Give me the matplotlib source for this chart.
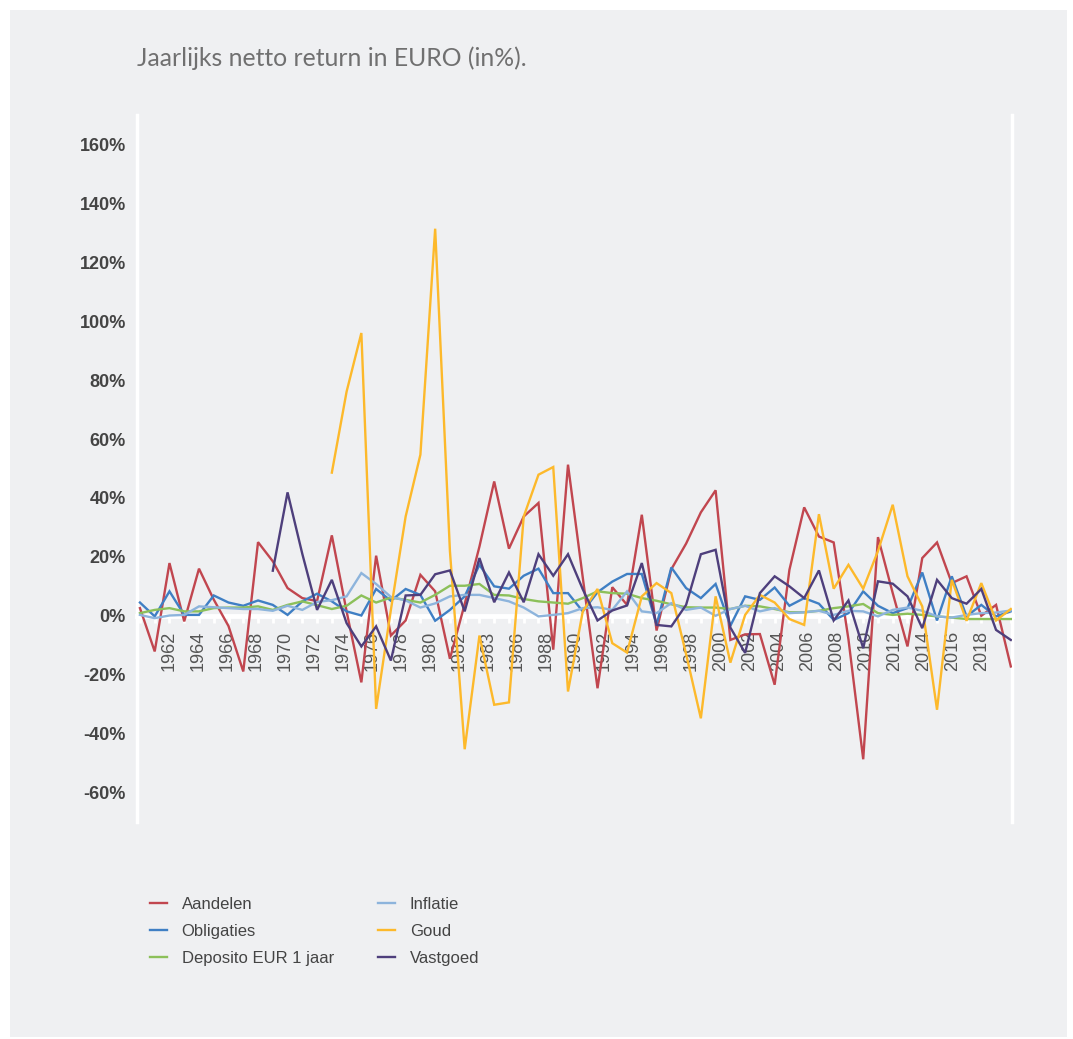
import numpy as np
import matplotlib
matplotlib.use("Agg")
import matplotlib.pyplot as plt
from matplotlib.patches import Rectangle
from matplotlib.lines import Line2D

nan = np.nan

# data: 60 annual observations
years = list(range(1960, 2020))

aandelen = [2.6, -12.1, 17.9, -1.9, 16.0, 5.5, -3.5, -18.9, 25.0, 18.5,
            9.4, 6.0, 5.0, 27.3, 1.5, -22.6, 20.4, -6.7, -1.6, 13.9,
            8.3, -14.6, 4.0, 23.5, 45.6, 22.8, 33.7, 38.3, -11.5, 51.3,
            13.0, -24.6, 9.7, 3.7, 34.3, -5.0, 15.8, 24.5, 35.1, 42.6,
            -8.2, -6.3, -6.2, -23.4, 15.6, 36.8, 26.9, 24.9, -8.0, -48.7,
            26.7, 7.7, -10.4, 19.6, 24.9, 11.1, 13.4, 0.0, 3.7, -17.2]

obligaties = [4.5, -0.2, 8.3, 0.3, 0.3, 6.9, 4.5, 3.4, 5.2, 3.7,
              0.3, 4.9, 7.5, 4.9, 1.5, 0.1, 9.1, 5.1, 9.1, 7.1,
              -1.7, 2.0, 6.6, 17.3, 10.0, 9.2, 13.6, 16.0, 7.7, 7.7,
              1.5, 8.0, 11.6, 14.2, 14.2, -3.1, 16.4, 9.4, 6.0, 10.8,
              -3.4, 6.6, 5.4, 9.6, 3.4, 6.0, 4.1, -1.4, 0.9, 8.3,
              3.4, 0.9, 2.6, 14.7, -1.6, 13.4, -0.2, 3.7, -0.2, 1.5]

deposito = [0.9, 2.0, 2.6, 1.5, 1.5, 2.6, 2.8, 2.8, 3.2, 2.0,
            3.7, 4.9, 3.6, 2.3, 3.4, 6.9, 4.5, 6.2, 5.4, 4.5,
            7.1, 10.2, 10.2, 10.8, 7.1, 6.9, 5.7, 4.9, 4.5, 4.1,
            6.0, 8.3, 7.7, 7.5, 6.0, 5.1, 3.9, 2.9, 2.8, 2.8,
            2.3, 3.4, 3.2, 2.3, 1.2, 1.2, 1.7, 2.6, 3.2, 4.0,
            0.9, 0.3, 0.7, 0.3, -0.2, -0.6, -1.1, -1.1, -1.1, -1.1]

inflatie = [0.3, -0.8, 0.1, 0.3, 3.2, 2.9, 2.6, 2.3, 2.3, 1.7,
            3.4, 2.0, 4.7, 5.3, 6.6, 14.5, 10.8, 6.4, 5.2, 2.8,
            4.2, 6.6, 7.1, 7.1, 6.0, 4.9, 2.8, -0.2, 0.3, 0.9,
            2.6, 2.9, 2.0, 8.3, 1.5, 0.9, 4.3, 2.0, 2.8, 0.0,
            2.3, 3.4, 1.5, 2.6, 0.9, 1.2, 1.7, 0.3, 1.7, 1.5,
            -0.2, 2.0, 2.8, 1.7, -0.2, -0.6, 0.3, 0.9, 1.1, 1.8]

goud = [nan, nan, nan, nan, nan, nan, nan, nan, nan, nan,
        nan, nan, nan, 48.6, 76.1, 96.0, -31.6, 2.0, 33.7, 54.7,
        131.4, 22.0, -45.3, -6.7, -30.2, -29.4, 33.7, 47.9, 50.5, -25.7,
        1.5, 9.1, -9.3, -12.5, 6.6, 11.1, 7.7, -13.0, -34.8, 6.6,
        -15.9, 0.3, 7.1, 4.5, -1.1, -3.1, 34.5, 9.2, 17.3, 9.2,
        22.0, 37.7, 13.4, 3.2, -31.9, 12.2, -1.7, 11.1, -1.6, 2.3]

vastgoed = [nan, nan, nan, nan, nan, nan, nan, nan, nan, 15.3,
            41.9, 21.0, 2.0, 12.2, -2.5, -10.4, -3.6, -15.2, 6.9, 7.1,
            14.1, 15.4, 1.5, 19.6, 4.6, 14.7, 4.6, 20.9, 13.6, 20.9,
            9.0, -1.6, 1.8, 3.5, 17.9, -3.1, -3.6, 3.7, 20.9, 22.4,
            -4.0, -12.6, 7.7, 13.4, 10.0, 6.0, 15.4, -1.6, 5.2, -11.0,
            11.7, 10.9, 6.6, -4.2, 12.2, 6.0, 4.1, 9.1, -4.8, -8.2]

series_names = ["Aandelen", "Obligaties", "Deposito EUR 1 jaar",
                "Inflatie", "Goud", "Vastgoed"]
series_values = [aandelen, obligaties, deposito, inflatie, goud, vastgoed]
series_colors = ["#c1464f", "#3f7fc4", "#8cc05a", "#8db4dc", "#fdb92b", "#4e3f7c"]

tick_years = [1962, 1964, 1966, 1968, 1970, 1972, 1974, 1976, 1978, 1980,
              1982, 1984, 1986, 1988, 1990, 1992, 1994, 1996, 1998, 2000,
              2002, 2004, 2006, 2008, 2010, 2012, 2014, 2016, 2018]
tick_labels = ["1962", "1964", "1966", "1968", "1970", "1972", "1974", "1976",
               "1978", "1980", "1982", "1983", "1986", "1988", "1990", "1992",
               "1994", "1996", "1998", "2000", "2002", "2004", "2006", "2008",
               "2010", "2012", "2014", "2016", "2018"]
label_axis_span = (1960, 2020)

y_ticks = [-60, -40, -20, 0, 20, 40, 60, 80, 100, 120, 140, 160]

title = "Jaarlijks netto return in EURO (in%)."

# ---------------------------------------------------------------
W, H = 1073, 1039
fig = plt.figure(figsize=(W / 100, H / 100), dpi=100)
fig.patch.set_facecolor("white")
fig.patches.append(Rectangle((10 / W, 1 - 1037 / H), (1067 - 10) / W, (1037 - 10) / H,
                             transform=fig.transFigure, facecolor="#eff0f2",
                             edgecolor="none", zorder=-10))

ax = fig.add_axes([137 / W, 1 - 822 / H, (1012 - 137) / W, (822 - 115) / H])
ax.set_facecolor("none")

idx = np.arange(len(years))
for name, vals, col in zip(series_names, series_values, series_colors):
    ax.plot(idx, vals, color=col, lw=1.7, label=name, zorder=3,
            solid_joinstyle="miter")

n = len(years)
ax.set_xlim(-0.2, n - 1 + 0.08)
ax.set_ylim(-70, 170)

ax.spines["top"].set_visible(False)
for s in ("left", "right"):
    ax.spines[s].set_color("white")
    ax.spines[s].set_linewidth(2.5)
ax.spines["bottom"].set_position(("data", 0))
ax.spines["bottom"].set_color("white")
ax.spines["bottom"].set_linewidth(3.5)
ax.spines["bottom"].set_zorder(2)

span = label_axis_span[1] - label_axis_span[0]
tick_pos = [(y - label_axis_span[0]) * (n - 1) / span for y in tick_years]
ax.set_xticks(tick_pos)
ax.set_xticklabels(tick_labels, rotation=90, fontsize=13, color="#555555",
                   family="Liberation Sans")
ax.set_xticks(idx, minor=True)
ax.tick_params(axis="x", which="major", length=0, pad=11)
ax.tick_params(axis="x", which="minor", length=5, width=2, color="white",
               direction="out")

ax.set_yticks(y_ticks)
ax.set_yticklabels([f"{v}%" for v in y_ticks], fontsize=13, color="#444444",
                   family="Liberation Sans", fontweight="bold")
ax.tick_params(axis="y", which="both", length=0, pad=8)

fig.text(137 / W, 1 - 66 / H, title, fontsize=17.8, color="#707070",
         family="Lato", fontweight="normal", ha="left", va="baseline")

handles = [Line2D([], [], color=c, lw=1.7) for c in series_colors]
leg_kw = dict(loc="upper left", frameon=False, borderpad=0, borderaxespad=0,
              handlelength=1.0, handletextpad=0.9, labelspacing=0.72,
              prop={"family": "Liberation Sans", "size": 12},
              labelcolor="#444444", bbox_transform=fig.transFigure)
leg1 = fig.legend(handles[:3], series_names[:3],
                  bbox_to_anchor=(150 / W, 1 - 897 / H), **leg_kw)
leg2 = fig.legend(handles[3:], series_names[3:],
                  bbox_to_anchor=(378 / W, 1 - 897 / H), **leg_kw)

fig.savefig("out.png", dpi=100, facecolor="white")
